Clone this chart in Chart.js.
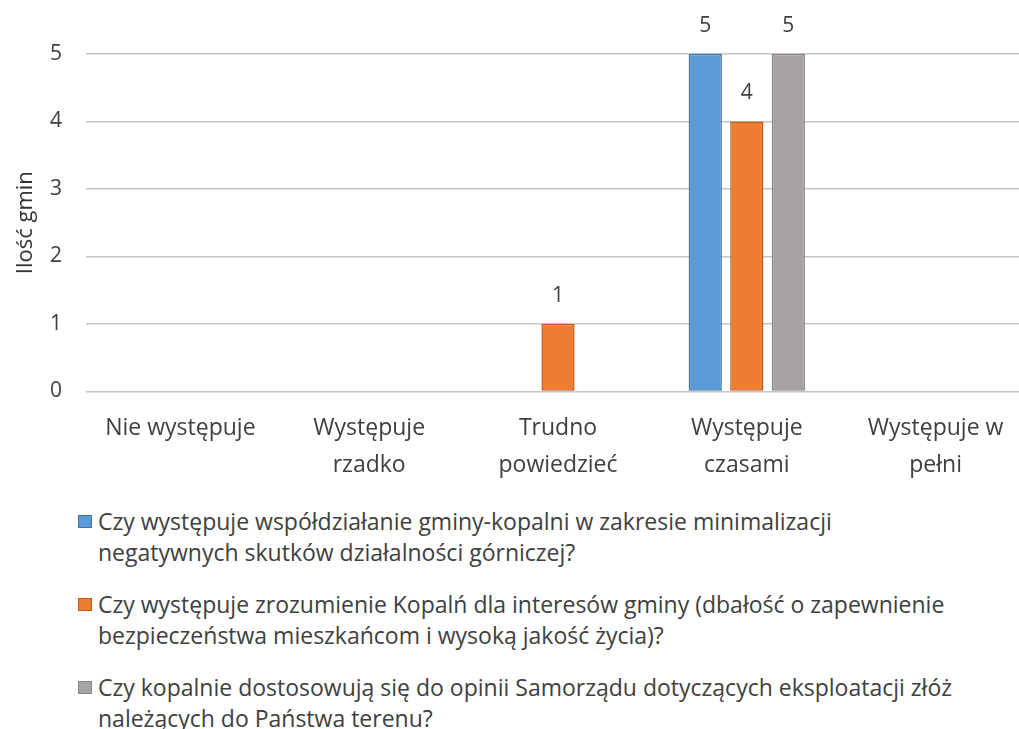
<!DOCTYPE html>
<html>
<head>
<meta charset="utf-8">
<script src="https://cdn.jsdelivr.net/npm/chart.js@4.4.1/dist/chart.umd.min.js"></script>
<style>
  body { margin: 0; background: #fff; font-family: "Open Sans", sans-serif; position: relative; width: 1019px; height: 729px; overflow: hidden; }
  /* the original plot runs a little past the right edge of the picture */
  #wrap { position: absolute; left: 0; top: 0; width: 1030px; height: 504px; }
  #legend { position: absolute; left: 78px; top: 506px; color: #404040; font-size: 23px; }
  .item { display: flex; align-items: flex-start; margin-bottom: 21px; line-height: 31px; white-space: nowrap; }
  .box { width: 14px; height: 13px; margin: 9px 6px 0 0; flex: none; box-sizing: border-box; border: 1px solid; }
</style>
</head>
<body>
<div id="wrap"><canvas id="myChart"></canvas></div>
<div id="legend"></div>

<script>
// categories (two-line labels like in the source figure)
var categories = [
  ["Nie występuje"],
  ["Występuje", "rzadko"],
  ["Trudno", "powiedzieć"],
  ["Występuje", "czasami"],
  ["Występuje w", "pełni"]
];

// legend texts, split where the original breaks the line
var seriesNames = [
  ["Czy występuje współdziałanie gminy-kopalni w zakresie minimalizacji", "negatywnych skutków działalności górniczej?"],
  ["Czy występuje zrozumienie Kopalń dla interesów gminy (dbałość o zapewnienie", "bezpieczeństwa mieszkańcom i wysoką jakość życia)?"],
  ["Czy kopalnie dostosowują się do opinii Samorządu dotyczących eksploatacji złóż", "należących do Państwa terenu?"]
];

var wspoldzialanie = [0, 0, 0, 5, 0];
var zrozumienie = [0, 0, 1, 4, 0];
var dostosowanie = [0, 0, 0, 5, 0];

var yTicks = [0, 1, 2, 3, 4, 5];

var fills = ["#5b9bd5", "#ed7d31", "#a7a3a2"];
var borders = ["#3e75ab", "#c2591a", "#8a8685"];

// labels over the bars, only where the value is not 0
var barLabels = {
  id: "barLabels",
  afterDatasetsDraw: function (chart) {
    var ctx = chart.ctx;
    ctx.save();
    ctx.font = "21px 'Open Sans'";
    ctx.fillStyle = "#404040";
    ctx.textAlign = "center";
    ctx.textBaseline = "middle";
    chart.data.datasets.forEach(function (ds, i) {
      var meta = chart.getDatasetMeta(i);
      meta.data.forEach(function (bar, j) {
        if (ds.data[j] > 0) ctx.fillText(ds.data[j], bar.x, bar.y - 28);
      });
    });
    ctx.restore();
  }
};

var datasets = [wspoldzialanie, zrozumienie, dostosowanie].map(function (vals, i) {
  return {
    label: seriesNames[i].join(" "),
    data: vals,
    backgroundColor: fills[i],
    borderColor: borders[i],
    borderWidth: 1.5,
    borderSkipped: false,
    categoryPercentage: 0.66,
    barPercentage: 0.8
  };
});

new Chart("myChart", {
  type: "bar",
  data: { labels: categories, datasets: datasets },
  plugins: [barLabels],
  options: {
    responsive: true,
    maintainAspectRatio: false,
    animation: false,
    layout: { padding: { top: 54, left: 0, right: 0, bottom: 9 } },
    plugins: {
      legend: { display: false },
      tooltip: { enabled: false }
    },
    scales: {
      x: {
        grid: { display: false },
        border: { display: false },
        ticks: {
          color: "#404040",
          font: { family: "Open Sans", size: 23, lineHeight: 1.6 },
          maxRotation: 0,
          autoSkip: false,
          padding: 11
        },
        afterFit: function (axis) {
          axis.paddingLeft = 0;
          axis.paddingRight = 0;
        }
      },
      y: {
        min: 0,
        max: 5,
        afterBuildTicks: function (axis) {
          axis.ticks = yTicks.map(function (v) { return { value: v }; });
        },
        // fixed width so the plot starts where the original one does
        afterFit: function (axis) {
          axis.width = 86;
        },
        grid: { color: "#c6c6c6", lineWidth: 1.5, drawTicks: false },
        border: { display: false },
        ticks: {
          color: "#404040",
          font: { family: "Open Sans", size: 21 },
          padding: 24
        },
        title: {
          display: true,
          text: "Ilość gmin",
          color: "#333333",
          font: { family: "Open Sans", size: 22 },
          padding: { top: 13, bottom: 12 }
        }
      }
    }
  }
});

// html legend below the chart, built from the same arrays
var leg = document.getElementById("legend");
seriesNames.forEach(function (lines, i) {
  var item = document.createElement("div");
  item.className = "item";
  var box = document.createElement("span");
  box.className = "box";
  box.style.background = fills[i];
  box.style.borderColor = borders[i];
  var txt = document.createElement("span");
  txt.innerHTML = lines.join("<br>");
  item.appendChild(box);
  item.appendChild(txt);
  leg.appendChild(item);
});
</script>
</body>
</html>
